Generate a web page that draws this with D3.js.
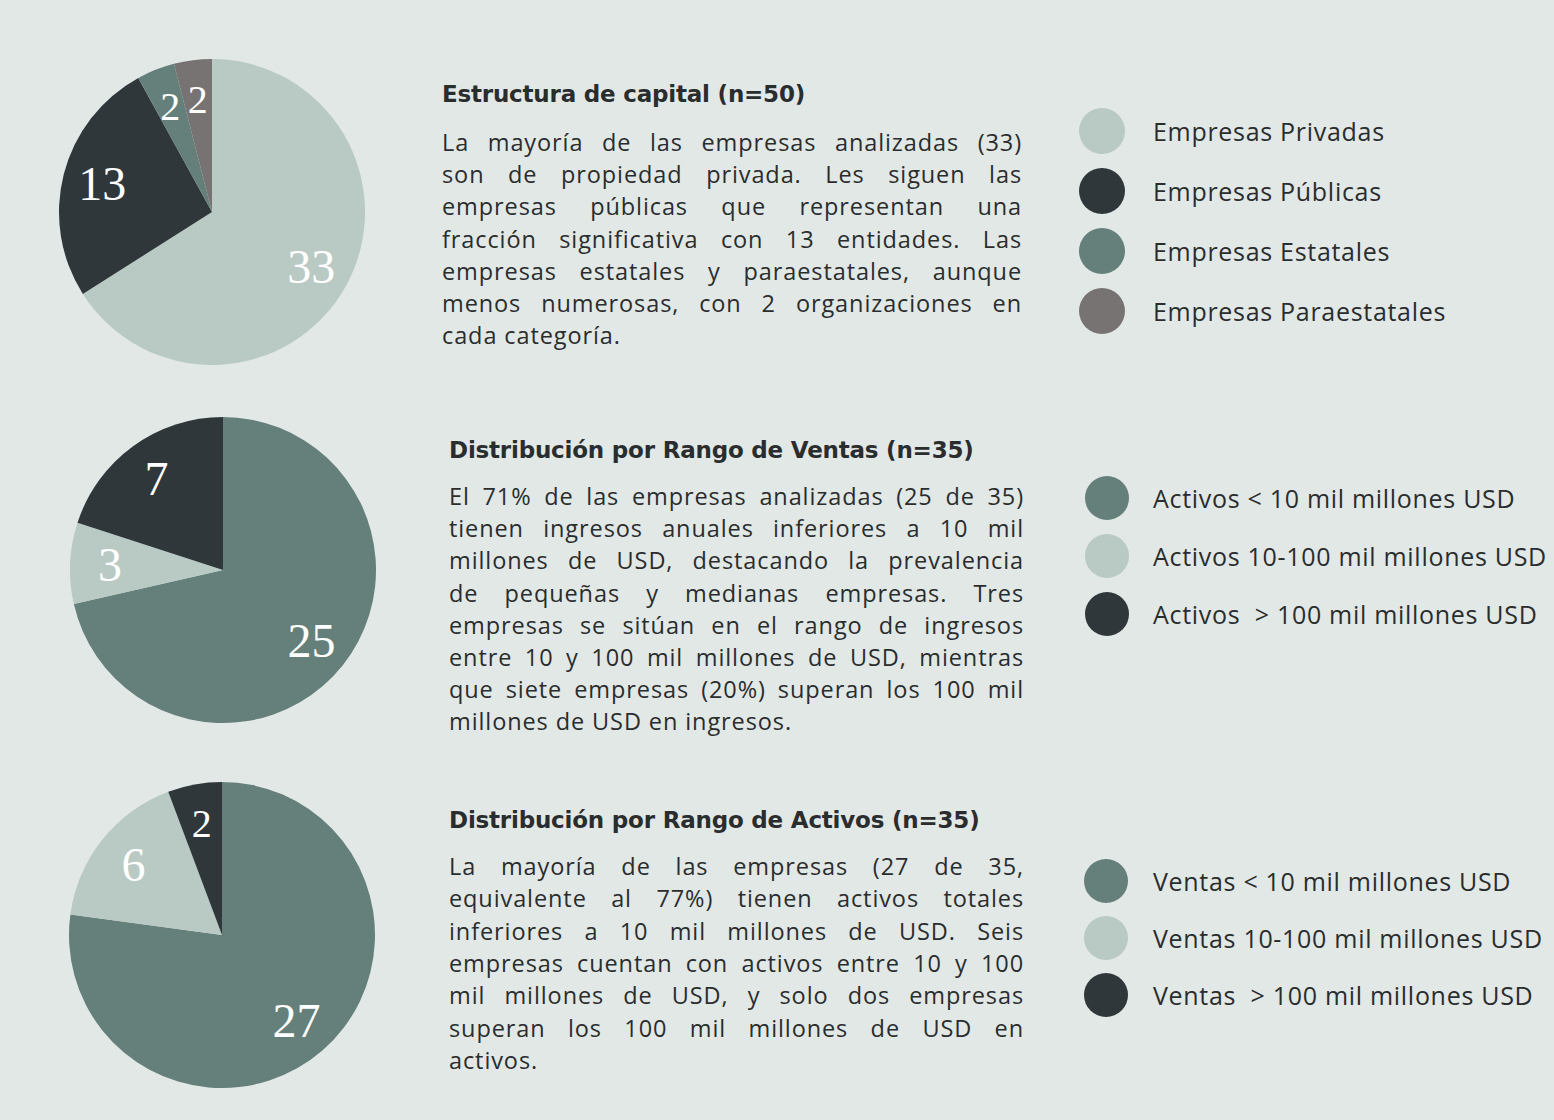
<!DOCTYPE html>
<html><head><meta charset="utf-8">
<script src="https://cdn.jsdelivr.net/npm/d3@7"></script>
<style>
html,body{margin:0;padding:0;background:#e2e8e6;}
svg{display:block;}
text{white-space:pre;}
</style></head>
<body>
<svg id="chart" width="1554" height="1120"></svg>
<script>
// ---------- DATA ----------
const capCategories = ["Empresas Privadas","Empresas Públicas","Empresas Estatales","Empresas Paraestatales"];
const capValues = [33,13,2,2];
const ventasCategories = ["Activos < 10 mil millones USD","Activos 10-100 mil millones USD","Activos  > 100 mil millones USD"];
const ventasValues = [25,3,7];
const activosCategories = ["Ventas < 10 mil millones USD","Ventas 10-100 mil millones USD","Ventas  > 100 mil millones USD"];
const activosValues = [27,6,2];

const titles = ["Estructura de capital (n=50)","Distribución por Rango de Ventas (n=35)","Distribución por Rango de Activos (n=35)"];
const capText = [
 "La mayoría de las empresas analizadas (33)",
 "son de propiedad privada. Les siguen las",
 "empresas públicas que representan una",
 "fracción significativa con 13 entidades. Las",
 "empresas estatales y paraestatales, aunque",
 "menos numerosas, con 2 organizaciones en",
 "cada categoría."];
const ventasText = [
 "El 71% de las empresas analizadas (25 de 35)",
 "tienen ingresos anuales inferiores a 10 mil",
 "millones de USD, destacando la prevalencia",
 "de pequeñas y medianas empresas. Tres",
 "empresas se sitúan en el rango de ingresos",
 "entre 10 y 100 mil millones de USD, mientras",
 "que siete empresas (20%) superan los 100 mil",
 "millones de USD en ingresos."];
const activosText = [
 "La mayoría de las empresas (27 de 35,",
 "equivalente al 77%) tienen activos totales",
 "inferiores a 10 mil millones de USD. Seis",
 "empresas cuentan con activos entre 10 y 100",
 "mil millones de USD, y solo dos empresas",
 "superan los 100 mil millones de USD en",
 "activos."];

// ---------- STYLE ----------
const C = {light:"#b9c9c3", dark:"#2f373b", teal:"#657f7a", gray:"#777373"};
const capColors = [C.light, C.dark, C.teal, C.gray];
const rangeColors = [C.teal, C.light, C.dark];
const textColor = "#2a2d2e";
const sansFont = "'Open Sans', Lato, sans-serif";

const panels = [
  {cats:capCategories, vals:capValues, colors:capColors, title:titles[0], lines:capText,
   cx:212, cy:212, tx:442, tw:580, titleY:102, lineY:151, lineStep:32.2,
   lx:1102, ly:131, lstep:60, lr:23},
  {cats:ventasCategories, vals:ventasValues, colors:rangeColors, title:titles[1], lines:ventasText,
   cx:223, cy:570, tx:449, tw:575, titleY:458, lineY:505, lineStep:32.2,
   lx:1107, ly:498, lstep:58, lr:22},
  {cats:activosCategories, vals:activosValues, colors:rangeColors, title:titles[2], lines:activosText,
   cx:222, cy:935, tx:449, tw:575, titleY:828, lineY:875, lineStep:32.3,
   lx:1106, ly:881, lstep:57, lr:22}
];

const svg = d3.select("#chart");
svg.append("rect").attr("width",1554).attr("height",1120).attr("fill","#e2e8e6");

const R = 153;
const pie = d3.pie().sort(null).value(d => d.v);
const arc = d3.arc().innerRadius(0).outerRadius(R);
const labelArc = d3.arc().innerRadius(R*0.74).outerRadius(R*0.74);

panels.forEach(p => {
  const data = p.vals.map((v,i) => ({v, c:p.cats[i], col:p.colors[i]}));
  const g = svg.append("g").attr("transform",`translate(${p.cx},${p.cy})`);
  const arcs = pie(data);
  g.selectAll("path").data(arcs).join("path")
    .attr("d", arc).attr("fill", d => d.data.col);
  g.selectAll("text").data(arcs).join("text")
    .attr("transform", d => `translate(${labelArc.centroid(d)})`)
    .attr("text-anchor","middle").attr("dominant-baseline","central")
    .attr("fill","#ffffff")
    .attr("font-family","'Liberation Serif', 'DejaVu Serif', serif")
    .attr("font-size", d => d.data.v/d3.sum(p.vals) < 0.06 ? 40 : 48)
    .text(d => d.data.v);

  // Title
  svg.append("text").attr("x",p.tx).attr("y",p.titleY)
    .attr("font-family","'DejaVu Sans', 'Open Sans', sans-serif").attr("font-weight",700).attr("font-size",23)
    .attr("letter-spacing","-0.2px")
    .attr("fill",textColor).text(p.title);

  // Justified paragraph
  p.lines.forEach((ln,i) => {
    const t = svg.append("text").attr("x",p.tx).attr("y",p.lineY + i*p.lineStep)
      .attr("font-family",sansFont).attr("font-weight",400).attr("font-size",23.5)
      .attr("letter-spacing","0.9px")
      .attr("fill",textColor).text(ln);
    if (i < p.lines.length-1) {
      const w = t.node().getComputedTextLength();
      const spaces = (ln.match(/ /g)||[]).length;
      if (spaces > 0 && w < p.tw) t.attr("word-spacing", ((p.tw - w)/spaces) + "px");
    }
  });

  // Legend
  const lg = svg.append("g");
  data.forEach((d,i) => {
    lg.append("circle").attr("cx",p.lx).attr("cy",p.ly + i*p.lstep).attr("r",p.lr).attr("fill",d.col);
    lg.append("text").attr("x",1153).attr("y",p.ly + i*p.lstep)
      .attr("dominant-baseline","central")
      .attr("font-family",sansFont).attr("font-size",25).attr("letter-spacing","0.7px")
      .attr("fill",textColor).text(d.c);
  });
});
</script>
</body></html>
